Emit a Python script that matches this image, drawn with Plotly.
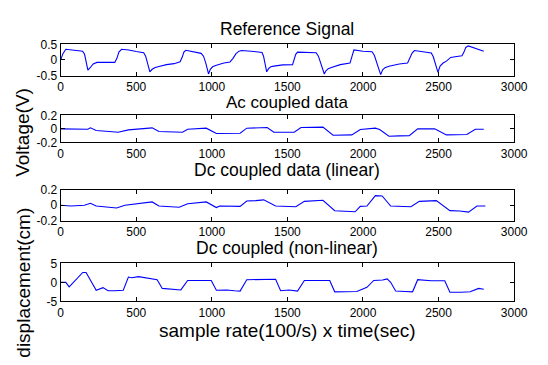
import plotly.graph_objects as go

# ---- data ----
ref_x = [0, 15, 34, 80, 145, 158, 168, 180, 195, 215, 240, 300, 358, 372, 385, 403, 450, 500, 549, 562, 575, 590, 605, 625, 650, 700, 750, 790, 805, 815, 828, 880, 929, 945, 960, 978, 990, 1005, 1030, 1080, 1120, 1140, 1160, 1180, 1198, 1260, 1332, 1342, 1352, 1363, 1375, 1390, 1410, 1470, 1534, 1545, 1555, 1567, 1620, 1690, 1705, 1720, 1744, 1755, 1770, 1791, 1850, 1914, 1922, 1930, 1940, 2000, 2060, 2075, 2090, 2117, 2130, 2145, 2172, 2240, 2295, 2310, 2325, 2340, 2400, 2452, 2465, 2478, 2496, 2510, 2530, 2552, 2580, 2620, 2655, 2668, 2680, 2697, 2740, 2799]
ref_y = [0.0, 0.2, 0.34, 0.31, 0.28, 0.18, -0.05, -0.33, -0.25, -0.13, -0.08, -0.07, -0.08, 0.05, 0.25, 0.34, 0.32, 0.27, 0.23, 0.12, -0.1, -0.38, -0.3, -0.24, -0.21, -0.15, -0.12, -0.06, 0.1, 0.25, 0.31, 0.27, 0.21, 0.12, -0.1, -0.45, -0.3, -0.22, -0.17, -0.1, -0.07, 0.05, 0.2, 0.28, 0.3, 0.28, 0.24, 0.12, -0.1, -0.38, -0.28, -0.22, -0.2, -0.16, -0.15, 0.0, 0.18, 0.25, 0.24, 0.23, 0.12, -0.1, -0.45, -0.35, -0.28, -0.24, -0.15, -0.1, 0.05, 0.22, 0.32, 0.28, 0.26, 0.15, -0.05, -0.47, -0.32, -0.25, -0.2, -0.13, -0.1, 0.05, 0.22, 0.3, 0.26, 0.22, 0.1, -0.1, -0.4, -0.2, -0.1, -0.04, 0.08, 0.11, 0.13, 0.25, 0.4, 0.45, 0.38, 0.28]

ac_x = [0, 120, 179, 197, 235, 300, 380, 448, 560, 605, 650, 720, 806, 840, 900, 963, 1030, 1100, 1187, 1231, 1300, 1366, 1410, 1480, 1545, 1590, 1660, 1735, 1802, 1870, 1926, 1982, 2040, 2082, 2110, 2172, 2240, 2306, 2362, 2420, 2474, 2552, 2620, 2687, 2743, 2799]
ac_y = [0.0, -0.005, -0.005, 0.015, -0.025, -0.035, -0.05, -0.015, 0.0, 0.015, -0.04, -0.045, -0.05, -0.005, 0.005, 0.01, -0.07, -0.07, -0.065, 0.01, 0.015, 0.02, -0.05, -0.05, -0.05, 0.02, 0.02, 0.025, -0.095, -0.09, -0.09, -0.01, 0.0, 0.01, -0.01, -0.11, -0.105, -0.1, 0.0, 0.0, 0.0, -0.09, -0.09, -0.085, -0.005, -0.005]

dcl_x = [0, 67, 157, 197, 235, 300, 370, 425, 515, 605, 650, 720, 784, 840, 900, 963, 1030, 1052, 1187, 1231, 1290, 1343, 1422, 1490, 1556, 1612, 1680, 1735, 1813, 1880, 1948, 1982, 2026, 2082, 2127, 2183, 2250, 2317, 2373, 2430, 2485, 2575, 2640, 2698, 2754, 2810]
dcl_y = [0.0, -0.01, 0.0, 0.025, -0.01, -0.02, -0.035, 0.0, 0.02, 0.043, -0.01, -0.02, -0.027, 0.02, 0.03, 0.043, -0.03, -0.01, -0.015, 0.055, 0.06, 0.07, -0.01, -0.015, -0.02, 0.05, 0.055, 0.065, -0.072, -0.075, -0.085, -0.015, -0.01, 0.125, 0.12, -0.01, -0.015, -0.02, 0.05, 0.055, 0.06, -0.07, -0.075, -0.09, -0.01, -0.01]

dcn_x = [0, 34, 56, 112, 146, 168, 206, 235, 280, 313, 360, 414, 448, 470, 515, 580, 638, 672, 740, 795, 840, 920, 996, 1030, 1100, 1150, 1187, 1231, 1330, 1422, 1455, 1510, 1567, 1612, 1700, 1780, 1813, 1900, 1959, 2026, 2071, 2130, 2160, 2183, 2216, 2280, 2328, 2362, 2450, 2541, 2575, 2650, 2709, 2765, 2799]
dcn_y = [0.0, 0.0, -1.2, 1.2, 2.6, 2.6, 0.0, -2.1, -1.4, -2.2, -2.2, -2.1, 1.4, 1.2, 1.5, 1.1, 0.7, -1.6, -1.9, -2.0, 0.5, 0.5, 0.5, -2.1, -2.0, -2.2, -2.3, 0.7, 0.8, 0.8, -2.2, -2.0, -2.3, 0.5, 0.5, 0.5, -2.5, -2.5, -2.4, -1.3, 0.5, 0.6, 0.9, 0.0, -2.3, -2.4, -2.5, 0.7, 0.4, 0.4, -2.6, -2.6, -2.5, -1.6, -1.8]

titles = ["Reference Signal", "Ac coupled data", "Dc coupled data (linear)", "Dc coupled (non-linear)"]
y_ranges = [[-0.5, 0.5], [-0.2, 0.2], [-0.2, 0.2], [-5, 5]]
y_ticks = [[-0.5, 0, 0.5], [-0.2, 0, 0.2], [-0.2, 0, 0.2], [-5, 0, 5]]
y_ticklabels = [["-0.5", "0", "0.5"], ["-0.2", "0", "0.2"], ["-0.2", "0", "0.2"], ["-5", "0", "5"]]
x_ticks = [0, 500, 1000, 1500, 2000, 2500, 3000]

# the page body has an 8px margin; lay out in page pixels and subtract it
OFF = 8
W, H = 548 - OFF, 365 - OFF
boxes = [(38.5, 71), (112.5, 140.5), (190, 222), (266.5, 306)]
title_centres = [23, 99, 169, 250.5]
title_sizes = [17.5, 17, 17.5, 17.5]
x_left, x_right = 59.3, 527.5

def px(x):
    return (x - OFF) / W

def py(y):
    return 1 - (y - OFF) / H

series = [(ref_x, ref_y), (ac_x, ac_y), (dcl_x, dcl_y), (dcn_x, dcn_y)]
fam = "Liberation Sans, Arial, sans-serif"

fig = go.Figure()
layout = dict(width=W, height=H, margin=dict(l=0, r=0, t=0, b=0),
              paper_bgcolor="white", plot_bgcolor="white", showlegend=False,
              font=dict(family=fam, size=12, color="black"))
annotations = []
for i, ((xs, ys), (top, bot)) in enumerate(zip(series, boxes)):
    n = "" if i == 0 else str(i + 1)
    fig.add_trace(go.Scatter(x=xs, y=ys, mode="lines", line=dict(color="#0000FF", width=1.1),
                             xaxis="x" + n, yaxis="y" + n, hoverinfo="skip"))
    common = dict(showgrid=False, zeroline=False, showline=True, mirror="allticks",
                  linecolor="black", linewidth=1, ticks="inside", ticklen=4,
                  tickcolor="black", tickfont=dict(size=12, family=fam, color="black"),
                  fixedrange=True)
    layout["xaxis" + n] = dict(domain=[px(x_left), px(x_right)], anchor="y" + n, range=[0, 3000],
                               tickvals=x_ticks, ticktext=[str(v) for v in x_ticks], **common)
    layout["yaxis" + n] = dict(domain=[py(bot), py(top)], anchor="x" + n, range=y_ranges[i],
                               tickvals=y_ticks[i], ticktext=y_ticklabels[i], **common)
    annotations.append(dict(text=titles[i], xref="paper", yref="paper",
                            x=px((x_left + x_right) / 2), y=py(title_centres[i]),
                            xanchor="center", yanchor="middle", showarrow=False, borderpad=0,
                            font=dict(size=title_sizes[i], family=fam, color="black")))

annotations.append(dict(text="sample rate(100/s) x time(sec)", xref="paper", yref="paper",
                        x=px((x_left + x_right) / 2), y=py(336), xanchor="center", yanchor="middle",
                        showarrow=False, borderpad=0, font=dict(size=19, family=fam, color="black")))
annotations.append(dict(text="Voltage(V)", xref="paper", yref="paper", x=px(20), y=py(130),
                        xanchor="center", yanchor="middle", textangle=-90, showarrow=False,
                        font=dict(size=19, family=fam, color="black")))
annotations.append(dict(text="displacement(cm)", xref="paper", yref="paper", x=px(20), y=py(287),
                        xanchor="center", yanchor="middle", textangle=-90, showarrow=False,
                        font=dict(size=19, family=fam, color="black")))
layout["annotations"] = annotations
fig.update_layout(**layout)
fig.write_html("out.html")
